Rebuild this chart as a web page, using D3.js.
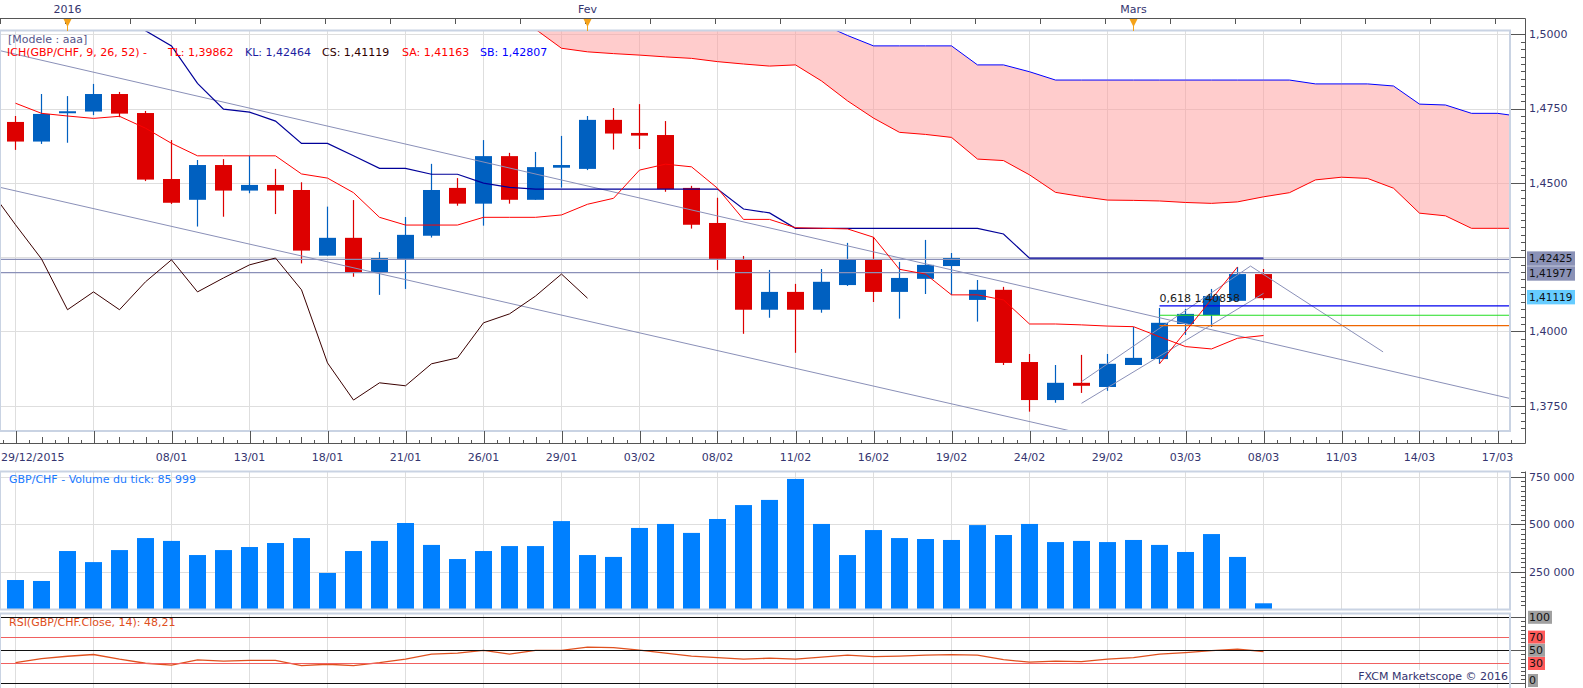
<html>
<head>
  <style>
    body { margin: 0; background: #fff; }
    svg { display: block; font-family: 'DejaVu Sans', Verdana, sans-serif; font-size: 11px; }
  </style>
</head>
<body>
<script src="https://d3js.org/d3.v7.min.js"></script>
<script>
// daily GBP/CHF candles, index 0 = first visible candle
var openP  = [1.4705,1.4639,1.4740,1.4740,1.4799,1.4735,1.4513,1.4443,1.4560,1.4474,
              1.4493,1.4476,1.4255,1.4315,1.4200,1.4244,1.4322,1.4483,1.4430,1.4590,
              1.4443,1.4551,1.4547,1.4712,1.4668,1.4661,1.4483,1.4365,1.4241,1.4073,
              1.4133,1.4073,1.4156,1.4241,1.4133,1.4177,1.4220,1.4106,1.4140,1.3897,
              1.3769,1.3827,1.3813,1.3887,1.3907,1.4025,1.4055,1.4103,1.4193];
var highP  = [1.4725,1.4799,1.4792,1.4833,1.4806,1.4742,1.4644,1.4577,1.4580,1.4591,
              1.4547,1.4502,1.4420,1.4442,1.4267,1.4385,1.4564,1.4516,1.4644,1.4601,
              1.4604,1.4658,1.4725,1.4752,1.4765,1.4708,1.4490,1.4450,1.4254,1.4207,
              1.4160,1.4210,1.4298,1.4318,1.4234,1.4308,1.4264,1.4173,1.4150,1.3924,
              1.3887,1.3921,1.3924,1.4015,1.4079,1.4076,1.4143,1.4217,1.4210];
var lowP   = [1.4611,1.4631,1.4635,1.4728,1.4721,1.4506,1.4429,1.4353,1.4386,1.4465,
              1.4395,1.4229,1.4255,1.4184,1.4123,1.4143,1.4316,1.4423,1.4356,1.4430,
              1.4443,1.4484,1.4543,1.4612,1.4614,1.4470,1.4346,1.4207,1.3992,1.4046,
              1.3928,1.4063,1.4153,1.4099,1.4043,1.4126,1.4123,1.4033,1.3887,1.3730,
              1.3760,1.3793,1.3800,1.3887,1.3891,1.3988,1.4015,1.4103,1.4106];
var closeP = [1.4639,1.4732,1.4741,1.4799,1.4733,1.4511,1.4433,1.4560,1.4474,1.4493,
              1.4474,1.4272,1.4315,1.4200,1.4247,1.4325,1.4476,1.4430,1.4590,1.4443,
              1.4553,1.4560,1.4712,1.4666,1.4659,1.4479,1.4359,1.4244,1.4073,1.4133,
              1.4073,1.4167,1.4241,1.4133,1.4180,1.4224,1.4247,1.4140,1.3894,1.3769,
              1.3827,1.3817,1.3891,1.3911,1.4029,1.4059,1.4119,1.4193,1.41119];

// tick volume per candle
var volume = [208000,203000,360000,302000,365000,428000,413000,339000,365000,381000,
              402000,428000,245000,360000,413000,507000,392000,318000,360000,386000,
              386000,517000,339000,329000,481000,502000,455000,528000,601000,628000,
              738000,502000,339000,470000,428000,423000,418000,496000,444000,502000,
              407000,413000,407000,418000,392000,355000,449000,329000,85999];

// ichimoku lines
var tenkan = [1.4768,1.4734,1.4725,1.4717,1.4724,1.4684,1.4633,1.4591,1.4591,1.4591,
              1.4591,1.4530,1.4516,1.4467,1.4384,1.4358,1.4358,1.4358,1.4384,1.4384,
              1.4384,1.4392,1.4428,1.4448,1.4543,1.4563,1.4554,1.4482,1.4377,1.4377,
              1.4349,1.4347,1.4345,1.4317,1.4209,1.4193,1.4123,1.4123,1.4106,1.4025,
              1.4025,1.4022,1.4018,1.4016,1.3982,1.3949,1.3941,1.3977,1.39862];
var kijun  = [1.5200,1.5180,1.5160,1.5140,1.5080,1.5012,1.4961,1.4835,1.4748,1.4738,
              1.4708,1.4633,1.4633,1.4591,1.4549,1.4549,1.4529,1.4529,1.4499,1.4485,
              1.4479,1.4479,1.4479,1.4479,1.4479,1.4479,1.4479,1.4479,1.4412,1.4399,
              1.4347,1.4347,1.4347,1.4347,1.4347,1.4347,1.4347,1.4347,1.4328,1.42464,
              1.42464,1.42464,1.42464,1.42464,1.42464,1.42464,1.42464,1.42464,1.42464];
// senkou spans, already shifted forward, starting at candle index cloudStart
var cloudStart = 19;
var spanA = [1.5100,1.5017,1.4953,1.4941,1.4935,1.4930,1.4924,1.4919,1.4908,1.4900,
             1.4893,1.4897,1.4843,1.4776,1.4718,1.4670,1.4663,1.4653,1.4580,1.4575,
             1.4527,1.4468,1.4454,1.4442,1.4441,1.4439,1.4434,1.4431,1.4436,1.4453,
             1.4467,1.4510,1.4519,1.4515,1.4482,1.4398,1.4389,1.4347,1.4347,1.4347];
var spanB = [1.5120,1.5120,1.5120,1.5120,1.5120,1.5120,1.5120,1.5120,1.5120,1.5120,
             1.5120,1.5080,1.5035,1.4996,1.4961,1.4961,1.4961,1.4961,1.4897,1.4897,
             1.4874,1.4846,1.4846,1.4846,1.4846,1.4846,1.4846,1.4846,1.4846,1.4846,
             1.4846,1.4833,1.4833,1.4833,1.4826,1.4765,1.4762,1.4734,1.4734,1.4722];

// rsi(14)
var rsi = [31.2,37.4,41.0,43.6,36.5,30.4,27.4,35.5,33.5,34.6,
           34.6,26.9,28.9,26.9,31.2,36.5,44.1,45.7,49.8,44.1,
           49.8,49.8,54.8,54.0,50.2,45.7,41.1,38.8,36.5,38.0,
           36.5,39.6,42.6,40.3,41.1,42.6,43.4,42.6,35.8,32.0,
           33.5,32.7,36.5,38.8,44.1,46.4,49.5,51.7,48.21];

// axis labels, one every 3 candles from index 0
var dateLabels = ["29/12/2015","","08/01","13/01","18/01","21/01","26/01","29/01","03/02","08/02",
                  "11/02","16/02","19/02","24/02","29/02","03/03","08/03","11/03","14/03","17/03"];
var monthLabels = ["2016","Fev","Mars"];
var monthIndex = [2, 22, 43];
var priceTicks = [1.375, 1.4, 1.425, 1.45, 1.475, 1.5];
var volTicks = [250000, 500000, 750000];
var rsiLevels = [100, 70, 50, 30, 0];

// drawn objects
var hLines = [1.42425, 1.41977];
var fibNames = ["0,618", "0,5", "0,382"];
var fibPrices = [1.40858, 1.40544, 1.40195];
var fibStart = 44;
var trendLines = [
  [[-0.6, 1.4945], [57.5, 1.3774]],
  [[-0.6, 1.4485], [44, 1.3597]],
  [[41, 1.3831], [47.5, 1.4220]],
  [[41, 1.3758], [48, 1.4128]],
  [[47.5, 1.4220], [52.6, 1.3931]]
];
var fibTrend = [[44, 1.3891], [47, 1.4217]];

// ---- layout ----
var width = 1583, height = 688;
var plotR = 1510;
var axisX = 1525.5;
var priceTop = 31, priceBot = 431;
var volTop = 471.5, volBot = 609.5;
var rsiTop = 613.5, rsiBot = 700;

var up = '#0060c0', down = '#dd0000';
var axisText = '#35356f';

var fmtP = function(v, n){ return d3.format('.' + n + 'f')(v).replace('.', ','); };
var fr = d3.formatLocale({decimal: ',', thousands: ' ', grouping: [3], currency: ['', '']});
var fmtV = fr.format(',d');

var x  = d3.scaleLinear().domain([0, 57]).range([15.5, 1497.5]);
var yP = d3.scaleLinear().domain([1.375, 1.5]).range([405.7, 34.3]);
var yV = d3.scaleLinear().domain([56000, 776000]).range([609, 471.7]);
var yR = d3.scaleLinear().domain([0, 100]).range([683.3, 617.3]);

var svg = d3.select('body').append('svg').attr('width', width).attr('height', height);
svg.append('rect').attr('width', width).attr('height', height).attr('fill', '#fff');

var defs = svg.append('defs');
function clip(id, y0, y1){
  defs.append('clipPath').attr('id', id).append('rect')
      .attr('x', 1).attr('y', y0).attr('width', plotR - 2).attr('height', y1 - y0);
  return svg.append('g').attr('clip-path', 'url(#' + id + ')');
}

var gridIdx = d3.range(0, 58, 3);

// vertical grid lines in the three panels
[[priceTop, priceBot], [volTop, volBot], [rsiTop, rsiBot]].forEach(function(p){
  svg.append('g').selectAll('line').data(gridIdx).join('line')
     .attr('x1', function(d){ return x(d); }).attr('x2', function(d){ return x(d); })
     .attr('y1', p[0]).attr('y2', p[1])
     .attr('stroke', '#dedede').attr('stroke-width', 1);
});

// ---------- price panel ----------
var gp = clip('pclip', priceTop, priceBot);

gp.selectAll('.hg').data(priceTicks).join('line')
  .attr('x1', 0).attr('x2', plotR)
  .attr('y1', function(d){ return Math.round(yP(d)) + 0.5; })
  .attr('y2', function(d){ return Math.round(yP(d)) + 0.5; })
  .attr('stroke', '#dedede');

// kumo
var cloud = spanA.map(function(a, k){ return {i: cloudStart + k, a: a, b: spanB[k]}; });
gp.append('path').datum(cloud)
  .attr('d', d3.area().x(function(d){ return x(d.i); })
                      .y0(function(d){ return yP(d.a); })
                      .y1(function(d){ return yP(d.b); }))
  .attr('fill', '#ff9999').attr('opacity', 0.5);

var line = d3.line().x(function(d){ return x(d[0]); }).y(function(d){ return yP(d[1]); });

gp.append('path').datum(cloud.map(function(d){ return [d.i, d.a]; }))
  .attr('d', line).attr('fill', 'none').attr('stroke', '#ff0000');
gp.append('path').datum(cloud.map(function(d){ return [d.i, d.b]; }))
  .attr('d', line).attr('fill', 'none').attr('stroke', '#0000ff');

// candles
var candles = d3.range(openP.length).map(function(i){
  return {i: i, o: openP[i], h: highP[i], l: lowP[i], c: closeP[i]};
});
var cg = gp.selectAll('.candle').data(candles).join('g');
cg.append('line')
  .attr('x1', function(d){ return x(d.i); }).attr('x2', function(d){ return x(d.i); })
  .attr('y1', function(d){ return yP(d.h); }).attr('y2', function(d){ return yP(d.l); })
  .attr('stroke', function(d){ return d.c >= d.o ? up : down; }).attr('stroke-width', 1.2);
cg.append('rect')
  .attr('x', function(d){ return x(d.i) - 8.5; }).attr('width', 17)
  .attr('y', function(d){ return yP(Math.max(d.o, d.c)); })
  .attr('height', function(d){ return Math.max(2, Math.abs(yP(d.o) - yP(d.c))); })
  .attr('fill', function(d){ return d.c >= d.o ? up : down; });

// drawn trend lines and horizontal lines
gp.selectAll('.tl').data(trendLines).join('path')
  .attr('d', line).attr('fill', 'none').attr('stroke', '#8a90b8').attr('stroke-width', 1);
gp.selectAll('.hl').data(hLines).join('line')
  .attr('x1', 0).attr('x2', plotR)
  .attr('y1', function(d){ return yP(d); }).attr('y2', function(d){ return yP(d); })
  .attr('stroke', '#8a90b8').attr('stroke-width', 1.2);

// fibonacci levels
var fibColors = ['#0000ee', '#22dd22', '#ee6600'];
gp.selectAll('.fib').data(fibPrices).join('line')
  .attr('x1', x(fibStart)).attr('x2', plotR)
  .attr('y1', function(d){ return yP(d); }).attr('y2', function(d){ return yP(d); })
  .attr('stroke', function(d, k){ return fibColors[k]; }).attr('stroke-width', 1.2);
gp.append('path').datum(fibTrend).attr('d', line)
  .attr('fill', 'none').attr('stroke', '#ff0000');

// kijun, tenkan, chikou
gp.append('path').datum(kijun.map(function(v, i){ return [i, v]; }))
  .attr('d', line).attr('fill', 'none').attr('stroke', '#000099').attr('stroke-width', 1.2);
gp.append('path').datum(tenkan.map(function(v, i){ return [i, v]; }))
  .attr('d', line).attr('fill', 'none').attr('stroke', '#ff0000').attr('stroke-width', 1);
gp.append('path').datum(closeP.slice(25).map(function(v, k){ return [k - 1, v]; }))
  .attr('d', line).attr('fill', 'none').attr('stroke', '#3a0000').attr('stroke-width', 1);

gp.append('text').attr('x', x(fibStart)).attr('y', yP(fibPrices[0]) - 4)
  .attr('fill', '#1a1a1a').text(fibNames[0] + ' ' + fmtP(fibPrices[0], 5));

// frame
svg.append('rect').attr('x', 0).attr('y', priceTop - 0.5).attr('width', plotR).attr('height', priceBot - priceTop + 0.5)
   .attr('fill', 'none').attr('stroke', '#c9d3e3').attr('stroke-width', 2);

// legend
svg.append('text').attr('x', 8).attr('y', 43).attr('fill', '#55558a').text('[Modele : aaa]');
var legend = [
  [7, 'ICH(GBP/CHF, 9, 26, 52) -', '#ff0000'],
  [168, 'TL: ' + fmtP(tenkan[48], 5), '#ff0000'],
  [245, 'KL: ' + fmtP(kijun[48], 5), '#1c1ca0'],
  [322, 'CS: ' + fmtP(closeP[48], 5), '#300000'],
  [402, 'SA: 1,41163', '#ff0000'],
  [480, 'SB: 1,42807', '#0000ff']
];
svg.selectAll('.leg').data(legend).join('text')
   .attr('x', function(d){ return d[0]; }).attr('y', 55.5)
   .attr('fill', function(d){ return d[2]; }).text(function(d){ return d[1]; });

// ---------- top axis ----------
svg.append('line').attr('x1', 0).attr('x2', axisX).attr('y1', 18.5).attr('y2', 18.5).attr('stroke', '#555');
svg.selectAll('.tt').data(d3.range(-0.6, 57.5, 2.5)).join('line')
   .attr('x1', function(d){ return Math.round(x(d)) + 0.5; }).attr('x2', function(d){ return Math.round(x(d)) + 0.5; })
   .attr('y1', 18.5).attr('y2', 24).attr('stroke', '#555');
monthIndex.forEach(function(i, k){
  var mx = x(i);
  svg.append('text').attr('x', mx).attr('y', 13).attr('text-anchor', 'middle')
     .attr('fill', axisText).text(monthLabels[k]);
  svg.append('path').attr('d', 'M' + (mx - 4) + ',19L' + (mx + 4) + ',19L' + mx + ',27Z').attr('fill', '#f5a31a');
  svg.append('line').attr('x1', mx).attr('x2', mx).attr('y1', 26).attr('y2', 31).attr('stroke', '#f5a31a');
});

// ---------- date axis ----------
svg.append('line').attr('x1', 0).attr('x2', axisX).attr('y1', 443.5).attr('y2', 443.5).attr('stroke', '#555');
svg.selectAll('.dt').data(d3.range(-0.5, 58, 0.5)).join('line')
   .attr('x1', function(d){ return Math.round(x(d)) + 0.5; }).attr('x2', function(d){ return Math.round(x(d)) + 0.5; })
   .attr('y1', function(d){ return d % 3 === 0 ? 431 : (d % 1 === 0 ? 437 : 440); })
   .attr('y2', 443.5).attr('stroke', '#555');
svg.selectAll('.dl').data(dateLabels).join('text')
   .attr('x', function(d, k){ return k === 0 ? 1 : x(k * 3); })
   .attr('y', 461)
   .attr('text-anchor', function(d, k){ return k === 0 ? 'start' : 'middle'; })
   .attr('fill', axisText).text(function(d){ return d; });

// ---------- price axis ----------
// value tags on the axis (drawn levels and last close)
var tags = [
  {v: hLines[0], y: yP(hLines[0]) - 0.8, bg: '#8a91b6'},
  {v: hLines[1], y: yP(hLines[1]) + 0.8, bg: '#8a91b6'},
  {v: closeP[48], y: yP(closeP[48]) - 1, bg: '#66ccff'}
];

svg.append('line').attr('x1', axisX).attr('x2', axisX).attr('y1', 18.5).attr('y2', 443.5).attr('stroke', '#555');
svg.selectAll('.pm').data(d3.range(1.3675, 1.5001, 0.0025)).join('line')
   .attr('x1', function(d){ return Math.abs(d * 40 - Math.round(d * 40)) < 1e-6 ? 1511 : 1521; })
   .attr('x2', axisX)
   .attr('y1', function(d){ return Math.round(yP(d)) + 0.5; }).attr('y2', function(d){ return Math.round(yP(d)) + 0.5; })
   .attr('stroke', '#555');
// a tick label hidden under a tag is not drawn
svg.selectAll('.pl')
   .data(priceTicks.filter(function(d){
     return tags.every(function(t){ return Math.abs(yP(d) - t.y) > 12; });
   }))
   .join('text')
   .attr('x', 1529).attr('y', function(d){ return yP(d); }).attr('dy', '0.35em')
   .attr('fill', axisText).text(function(d){ return fmtP(d, 4); });

tags.forEach(function(t){
  svg.append('rect').attr('x', 1527).attr('y', t.y - 7.2).attr('width', 48).attr('height', 14.4).attr('fill', t.bg);
  svg.append('text').attr('x', 1529).attr('y', t.y).attr('dy', '0.35em')
     .attr('font-size', 10.5).attr('fill', '#111').text(fmtP(t.v, 5));
});

// ---------- volume panel ----------
var gv = clip('vclip', volTop, volBot);
gv.selectAll('.vg').data(volTicks).join('line')
  .attr('x1', 0).attr('x2', plotR)
  .attr('y1', function(d){ return Math.round(yV(d)) + 0.5; }).attr('y2', function(d){ return Math.round(yV(d)) + 0.5; })
  .attr('stroke', '#dedede');
gv.selectAll('.vb').data(volume).join('rect')
  .attr('x', function(d, i){ return x(i) - 8.5; }).attr('width', 17)
  .attr('y', function(d){ return yV(d); })
  .attr('height', function(d){ return volBot - yV(d); })
  .attr('fill', '#0080ff');
svg.append('rect').attr('x', 0).attr('y', volTop).attr('width', plotR).attr('height', volBot - volTop)
   .attr('fill', 'none').attr('stroke', '#c9d3e3').attr('stroke-width', 2);
svg.append('text').attr('x', 9).attr('y', 483).attr('fill', '#1a7aff')
   .text('GBP/CHF - Volume du tick: ' + fmtV(volume[48]));

svg.append('line').attr('x1', axisX).attr('x2', axisX).attr('y1', volTop).attr('y2', height).attr('stroke', '#555');
svg.selectAll('.vm').data(d3.range(75000, 775001, 25000)).join('line')
   .attr('x1', function(d){ return d % 250000 === 0 ? 1511 : 1521; }).attr('x2', axisX)
   .attr('y1', function(d){ return Math.round(yV(d)) + 0.5; }).attr('y2', function(d){ return Math.round(yV(d)) + 0.5; })
   .attr('stroke', '#555');
svg.selectAll('.vl').data(volTicks).join('text')
   .attr('x', 1529).attr('y', function(d){ return yV(d); }).attr('dy', '0.35em')
   .attr('fill', axisText).text(function(d){ return fmtV(d); });

// ---------- rsi panel ----------
var gr = clip('rclip', rsiTop, rsiBot);
gr.append('path').datum(rsi)
  .attr('d', d3.line().x(function(d, i){ return x(i); }).y(function(d){ return yR(d); }))
  .attr('fill', 'none').attr('stroke', '#e0501e').attr('stroke-width', 1.3);
gr.selectAll('.rl').data(rsiLevels).join('line')
  .attr('x1', 0).attr('x2', plotR)
  .attr('y1', function(d){ return Math.round(yR(d)) + 0.5; }).attr('y2', function(d){ return Math.round(yR(d)) + 0.5; })
  .attr('stroke', function(d){ return d === 70 || d === 30 ? '#f06060' : '#111'; })
  .attr('stroke-width', 1.2);
svg.append('rect').attr('x', 0).attr('y', rsiTop).attr('width', plotR).attr('height', rsiBot - rsiTop)
   .attr('fill', 'none').attr('stroke', '#c9d3e3').attr('stroke-width', 2);
svg.append('text').attr('x', 9).attr('y', 625.5).attr('fill', '#e0501e')
   .text('RSI(GBP/CHF.Close, 14): ' + fmtP(rsi[48], 2));

svg.selectAll('.rm').data(d3.range(0, 100.1, 6.25)).join('line')
   .attr('x1', function(d){ return d % 50 === 0 ? 1511 : 1521; }).attr('x2', axisX)
   .attr('y1', function(d){ return Math.round(yR(d)) + 0.5; }).attr('y2', function(d){ return Math.round(yR(d)) + 0.5; })
   .attr('stroke', '#555');
rsiLevels.forEach(function(v){
  // keep the bottom tag inside the window
  var ty = Math.min(yR(v), 680.5);
  var t = svg.append('text').attr('x', 1529).attr('y', ty).attr('dy', '0.35em').attr('fill', '#111').text(v);
  var w = t.node().getComputedTextLength();
  svg.insert('rect', function(){ return t.node(); })
     .attr('x', 1528).attr('y', ty - 6.5).attr('width', w + 3).attr('height', 13)
     .attr('fill', v === 70 || v === 30 ? '#ff5a5a' : '#a0a0a0');
});

// copyright
var cp = svg.append('text').attr('x', 1508).attr('y', 680).attr('text-anchor', 'end')
   .attr('fill', '#33336f').text('FXCM Marketscope \u00a9 2016');
var bb = cp.node().getBBox();
svg.insert('rect', function(){ return cp.node(); })
   .attr('x', bb.x - 1).attr('y', bb.y).attr('width', bb.width + 1).attr('height', bb.height).attr('fill', '#fff');
</script>
</body>
</html>
